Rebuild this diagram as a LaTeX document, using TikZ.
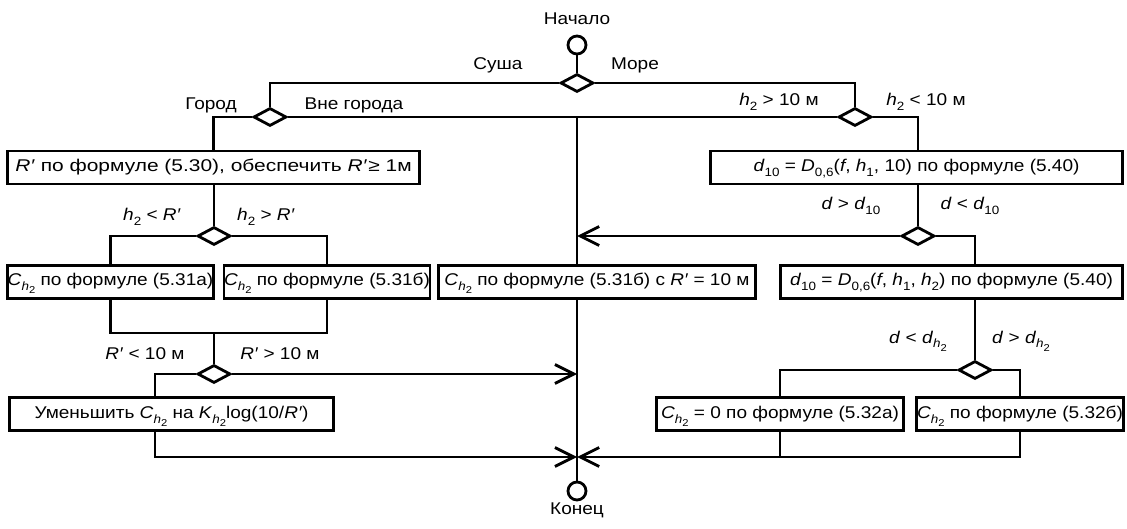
\documentclass[tikz,border=0pt]{standalone}
\usepackage{fontspec}
\setmainfont{Liberation Sans}[FakeStretch=1.12]
\usetikzlibrary{arrows.meta,shapes.geometric}
\newcommand\mysub[1]{\raisebox{-5pt}{\fontsize{12}{12}\selectfont #1}}
\newcommand\mysubb[1]{\raisebox{-3pt}{\fontsize{10}{10}\selectfont #1}}
\newcommand\myCh{\textit{C}\mysub{\textit{h}\mysubb{2}}}
\newcommand\myKh{\textit{K}\mysub{\textit{h}\mysubb{2}}}
\newcommand\myh[1]{\textit{h}\mysub{#1}}
\newcommand\myRp{\textit{R′}}
\begin{document}
\begin{tikzpicture}[x=1pt,y=-1pt,line width=2.8pt,
  every node/.style={font=\fontsize{17}{20}\selectfont},
  box/.style={draw,rectangle,inner sep=0pt,minimum height=33pt,text height=12pt,text depth=4pt},
  dia/.style={draw,diamond,inner sep=0pt,minimum width=33pt,minimum height=18pt},
  term/.style={draw,circle,inner sep=0pt,minimum size=18pt},
  lbl/.style={inner sep=0pt,anchor=base},
  arr/.style={-{Straight Barb[length=19pt,width=19pt]}}]
\useasboundingbox (0,0) rectangle (1127,529);

% terminals and decisions
\node[lbl] (tStart) at (577,25) {Начало};
\node[term] (S) at (577,45) {};
\node[dia] (D0) at (577,83) {};
\node[lbl] (lLand) at (498,70) {Суша};
\node[lbl] (lSea) at (635,70) {Море};
\node[dia] (D1) at (270,117) {};
\node[dia] (D2) at (855,117) {};
\node[lbl] (lCity) at (211,110) {Город};
\node[lbl] (lOut) at (354,110) {Вне города};
\node[lbl] (lHi) at (779,106) {\myh{2} > 10 м};
\node[lbl] (lLo) at (926,106) {\myh{2} < 10 м};

\node[box,minimum width=412pt] (B1) at (213.5,167.5) {\scalebox{1.1}[1]{\myRp{} по формуле (5.30), обеспечить \myRp\kern1pt≥ 1м}};
\node[box,minimum width=412pt] (B2) at (916.5,167.5) {\textit{d}\mysub{10} = \textit{D}\mysub{0,6}(\textit{f}, \myh{1}, 10) по формуле (5.40)};

\node[dia] (D3) at (214,236) {};
\node[dia] (D4) at (918,236) {};
\node[lbl] (lHR1) at (152,221) {\myh{2} < \myRp};
\node[lbl] (lHR2) at (266,221) {\myh{2} > \myRp};
\node[lbl] (lD1) at (851,210) {\textit{d} > \textit{d}\mysub{10}};
\node[lbl] (lD2) at (970,210) {\textit{d} < \textit{d}\mysub{10}};

\node[box,minimum width=202pt,minimum height=33.5pt] (B3) at (110.5,282) {\myCh{} по формуле (5.31а)};
\node[box,minimum width=205pt,minimum height=33.5pt] (B4) at (327,282) {\myCh{} по формуле (5.31б)};
\node[box,minimum width=317pt,minimum height=33.5pt] (B5) at (597,282) {\myCh{} по формуле (5.31б) с \myRp{} = 10 м};
\node[box,minimum width=342pt,minimum height=33.5pt] (B6) at (951.5,282) {\textit{d}\mysub{10} = \textit{D}\mysub{0,6}(\textit{f}, \myh{1}, \myh{2}) по формуле (5.40)};

\coordinate (J2) at (214,333);
\node[dia] (D5) at (214,374) {};
\node[dia] (D6) at (975,370) {};
\node[lbl] (lR1) at (145,359) {\myRp{} < 10 м};
\node[lbl] (lR2) at (280,359) {\myRp{} > 10 м};
\node[lbl] (lDh1) at (918,343) {\textit{d} < \textit{d}\mysub{\textit{h}\mysubb{2}}};
\node[lbl] (lDh2) at (1021,343) {\textit{d} > \textit{d}\mysub{\textit{h}\mysubb{2}}};

\node[box,minimum width=324pt,minimum height=33.5pt] (B7) at (171.5,414) {Уменьшить \myCh{} на \myKh log(10/\myRp)};
\node[box,minimum width=247pt,minimum height=33.5pt] (B8) at (780,414) {\myCh{} = 0 по формуле (5.32а)};
\node[box,minimum width=207pt,minimum height=33.5pt] (B9) at (1020,414) {\myCh{} по формуле (5.32б)};

\coordinate (M0) at (577,117);
\coordinate (M3) at (577,457);
\coordinate (X7) at (155,457);
\node[term] (E) at (577,491) {};
\node[lbl] (tEnd) at (577,514) {Конец};

% connectors
\draw (S.south) -- (D0.north);
\draw (D0.west) -| (D1.north);
\draw (D0.east) -| (D2.north);
\draw (D1.east) -- (D2.west);
\draw (D1.west) -| (B1.north);
\draw (D2.east) -| (B2.north -| D4.north);
\draw (B1.south -| D3.north) -- (D3.north);
\draw (B2.south -| D4.north) -- (D4.north);
\draw (D3.west) -| (B3.north);
\draw (D3.east) -| (B4.north);
\draw[arr] (D4.west) -- (D4.west -| M0);
\draw (D4.east) -| (B6.north -| D6.north);
\draw (B6.south -| D6.north) -- (D6.north);
\draw (B3.south) |- (J2) -| (B4.south);
\draw (J2) -- (D5.north);
\draw (M0) -- (B5.north -| M0);
\draw (B5.south -| M0) -- (E.north);
\draw[arr] (D5.east) -- (D5.east -| M0);
\draw (D5.west) -| (B7.north -| X7);
\draw[arr] (B7.south -| X7) |- (M3);
\draw (D6.west) -| (B8.north);
\draw (D6.east) -| (B9.north);
\draw (B8.south) -- (B8.south |- M3);
\draw[arr] (B9.south) |- (M3);
\end{tikzpicture}
\end{document}
